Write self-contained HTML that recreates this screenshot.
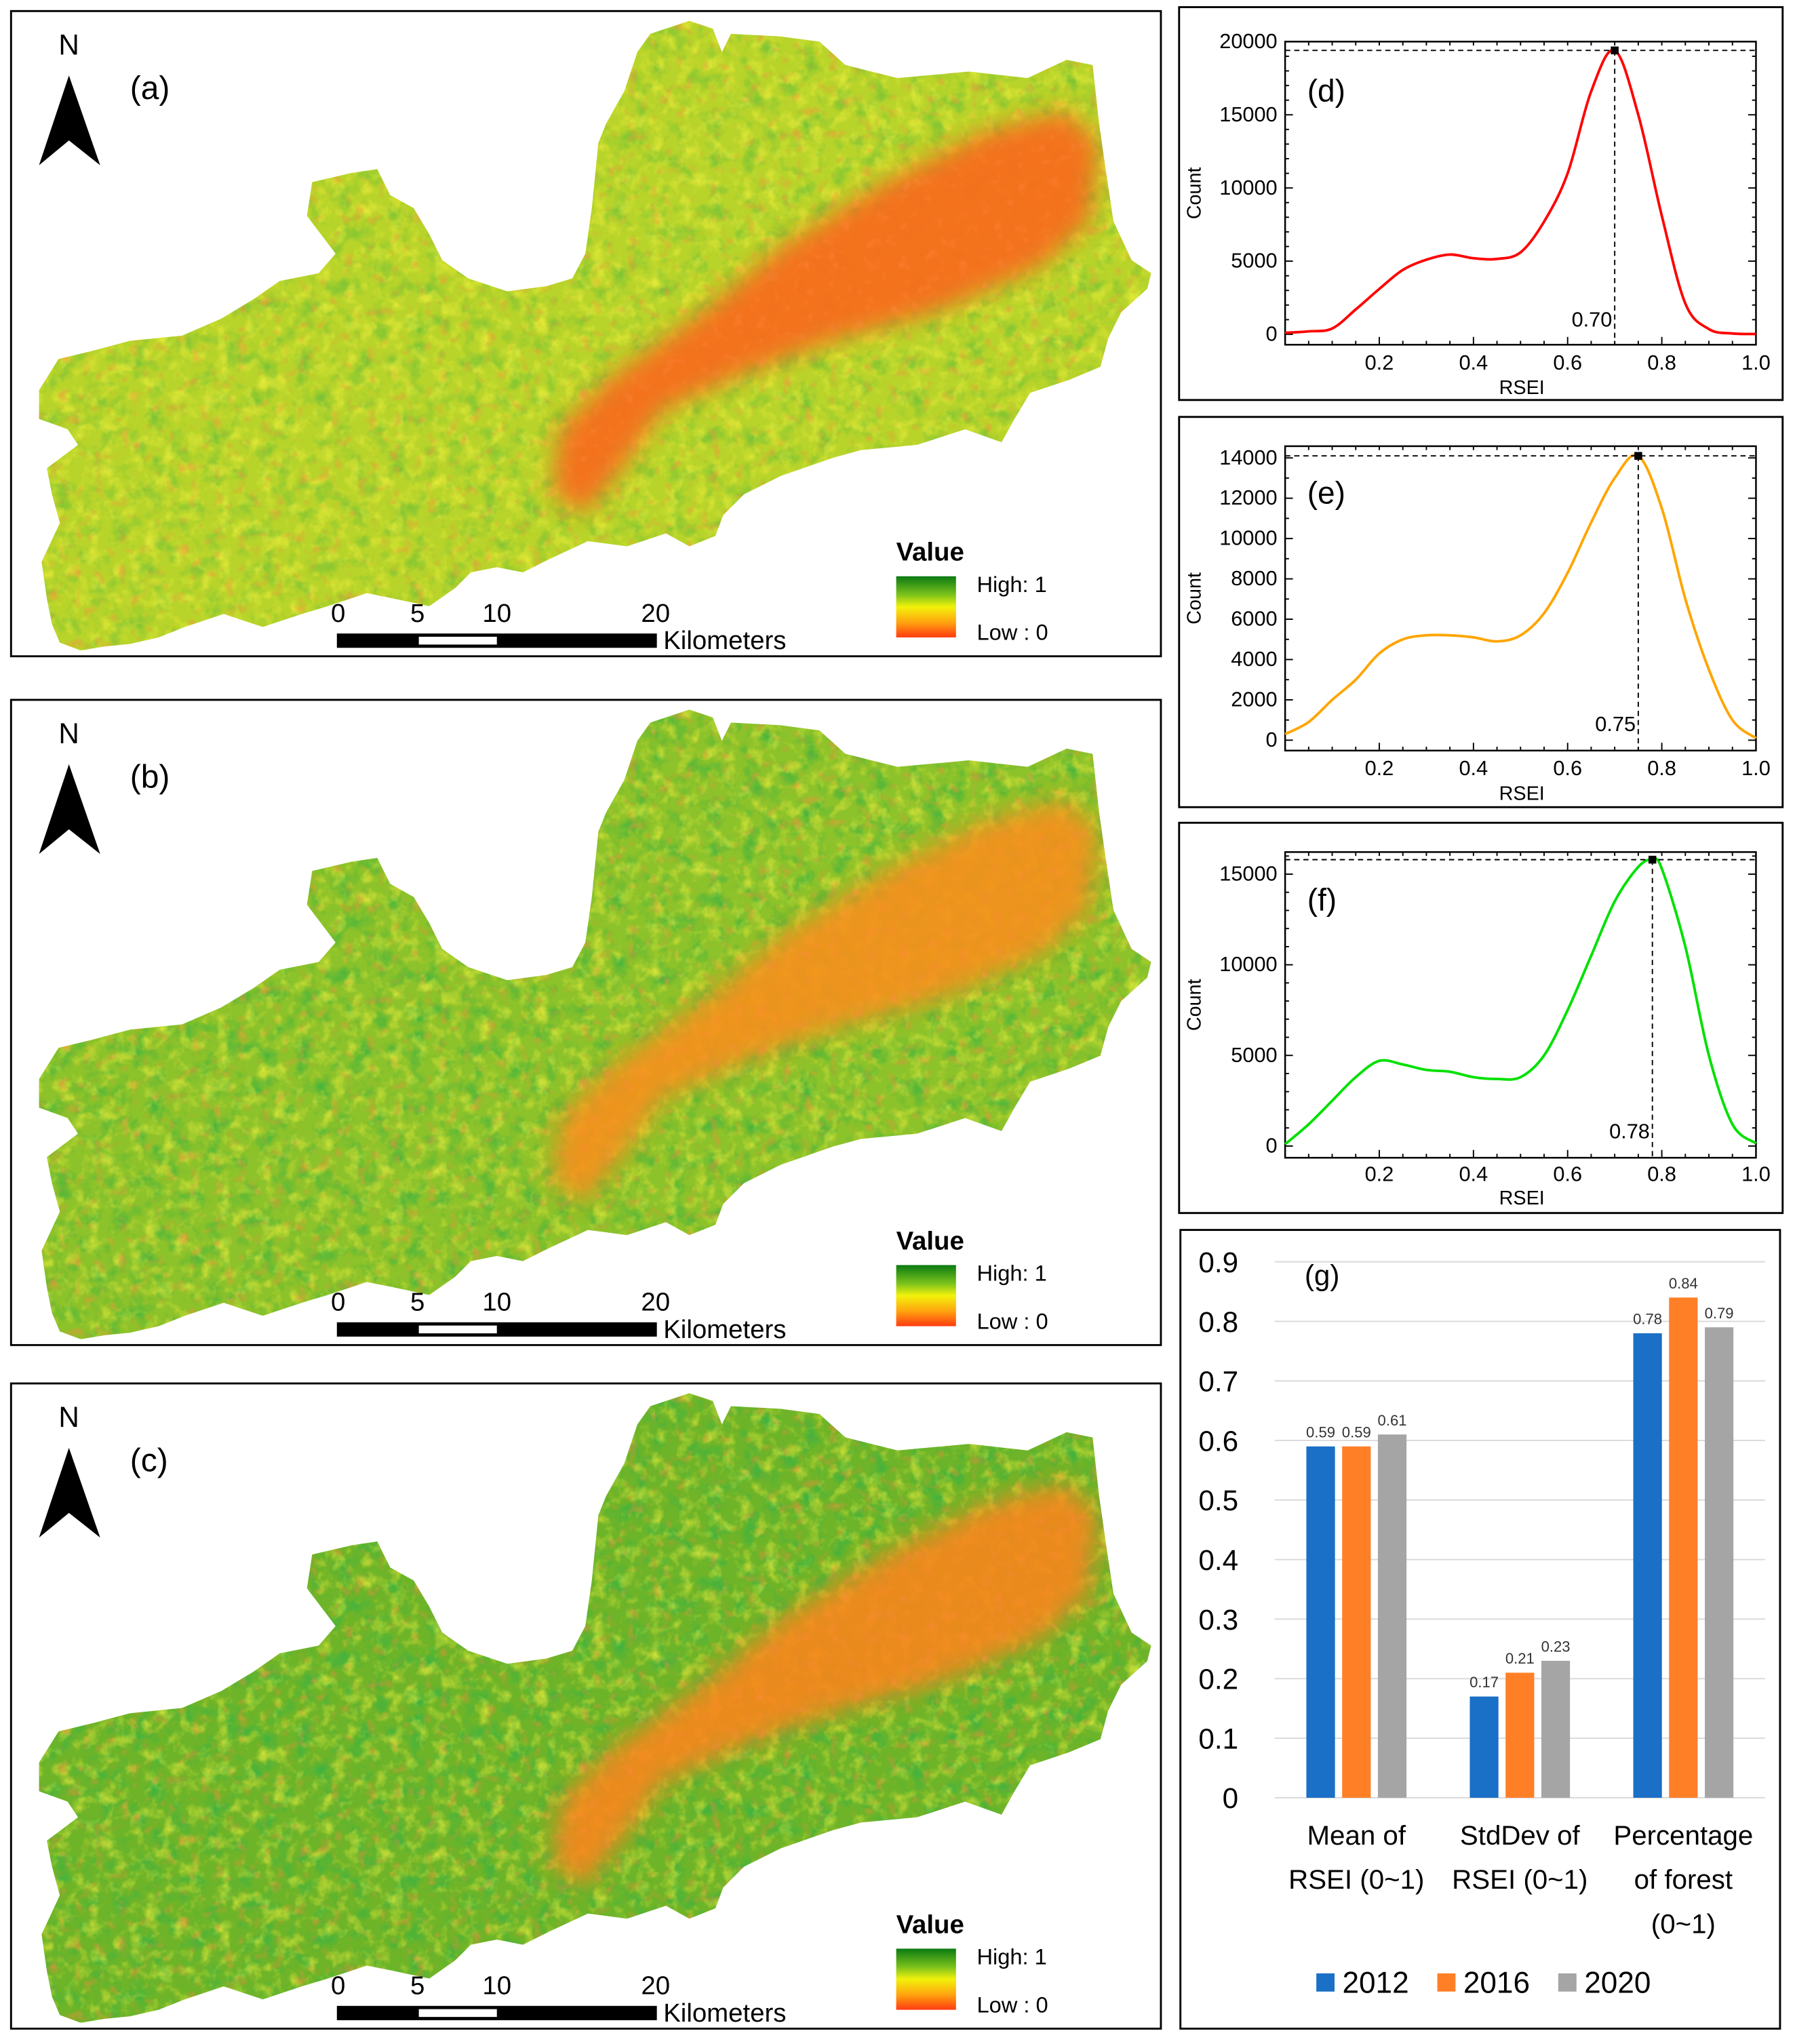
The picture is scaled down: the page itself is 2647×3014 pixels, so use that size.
<!DOCTYPE html>
<html><head><meta charset="utf-8"><style>
html,body{margin:0;padding:0;background:#fff}
svg{display:block}
text{font-family:"Liberation Sans",sans-serif}
</style></head><body>
<svg id="root" xmlns="http://www.w3.org/2000/svg" width="2647" height="3014" viewBox="0 0 1380 1571.3" preserveAspectRatio="none">
<defs>
<linearGradient id="lg" x1="0" y1="0" x2="0" y2="1">
<stop offset="0" stop-color="#0a7a12"/><stop offset="0.3" stop-color="#7ac21c"/><stop offset="0.5" stop-color="#f2f20a"/><stop offset="0.75" stop-color="#ffa50f"/><stop offset="1" stop-color="#ff3a10"/>
</linearGradient>
<filter id="tex" x="0" y="0" width="1" height="1">
<feTurbulence type="fractalNoise" baseFrequency="0.09" numOctaves="3" seed="4"/>
<feColorMatrix type="matrix" values="0 0 0 0 0.95  0 0 0 0 0.9  0 0 0 0 0.05  2.2 0 0 0 -1.05"/>
</filter>
<filter id="tex2" x="0" y="0" width="1" height="1">
<feTurbulence type="fractalNoise" baseFrequency="0.07" numOctaves="3" seed="9"/>
<feColorMatrix type="matrix" values="0 0 0 0 0.05  0 0 0 0 0.45  0 0 0 0 0.05  0 2.4 0 0 -1.15"/>
</filter>
<filter id="tex3" x="0" y="0" width="1" height="1">
<feTurbulence type="fractalNoise" baseFrequency="0.11" numOctaves="2" seed="17"/>
<feColorMatrix type="matrix" values="0 0 0 0 1  0 0 0 0 0.25  0 0 0 0 0.05  0 0 2.6 0 -1.5"/>
</filter>
<filter id="blur" x="-0.2" y="-0.2" width="1.4" height="1.4"><feGaussianBlur stdDeviation="9"/></filter>
</defs>
<g id="maps"></g>
<g id="charts"></g>
</svg>
<script>
const NS='http://www.w3.org/2000/svg';
function mk(tag,attrs,parent,txt){const e=document.createElementNS(NS,tag);for(const k in attrs)e.setAttribute(k,attrs[k]);if(txt!==undefined)e.textContent=txt;parent.appendChild(e);return e;}

/* ---------- density chart data ---------- */
const xsD=[0,0.05,0.1,0.15,0.2,0.25,0.3,0.35,0.4,0.45,0.5,0.55,0.6,0.65,0.7,0.75,0.8,0.85,0.9,0.95,1.0];
const countsD=[100,200,400,1700,3100,4400,5100,5450,5200,5150,5600,7700,11000,16600,19400,15000,8100,2100,360,60,20];
const xsE=[0,0.05,0.1,0.15,0.2,0.25,0.3,0.35,0.4,0.45,0.5,0.55,0.6,0.65,0.7,0.75,0.8,0.85,0.9,0.95,1.0];
const countsE=[300,900,2000,3000,4300,5000,5200,5200,5100,4900,5200,6300,8300,10800,13000,14100,11500,7000,3500,1000,100];
const xsF=[0,0.05,0.1,0.15,0.2,0.25,0.3,0.35,0.4,0.45,0.5,0.55,0.6,0.65,0.7,0.75,0.78,0.8,0.85,0.9,0.95,1.0];
const countsF=[100,1200,2500,3800,4700,4500,4200,4100,3800,3700,3800,5000,7500,10500,13500,15400,15800,15300,11000,5000,1200,150];
const peaksX=[0.70,0.75,0.78];
const peakLabels=['0.70','0.75','0.78'];
const ticksD=[0,5000,10000,15000,20000];
const ticksE=[0,2000,4000,6000,8000,10000,12000,14000];
const ticksF=[0,5000,10000,15000];
const xTicks=[0.2,0.4,0.6,0.8,1.0];
const xTickLabels=['0.2','0.4','0.6','0.8','1.0'];

/* ---------- bar chart data ---------- */
const barCats=[['Mean of','RSEI (0~1)'],['StdDev of','RSEI  (0~1)'],['Percentage','of forest','(0~1)']];
const s2012=[0.59,0.17,0.78];
const s2016=[0.59,0.21,0.84];
const s2020=[0.61,0.23,0.79];
const seriesNames=['2012','2016','2020'];
const barTicks=[0,0.1,0.2,0.3,0.4,0.5,0.6,0.7,0.8,0.9];

const charts=document.getElementById('charts');
const maps=document.getElementById('maps');

/* ---------- maps ---------- */
const outline=[[30,300],[45,276],[70,270],[100,262],[140,258],[170,245],[195,230],[215,216],[245,210],[258,195],[236,166],[240,140],[270,133],[290,130],[300,150],[318,160],[330,180],[340,200],[360,214],[390,224],[420,220],[440,214],[450,195],[455,160],[460,110],[466,95],[480,70],[490,40],[500,26],[530,16],[548,22],[555,40],[562,26],[600,28],[630,32],[650,50],[690,60],[712,58],[745,55],[790,60],[820,46],[840,50],[845,95],[850,130],[856,170],[870,200],[885,210],[882,222],[862,240],[852,260],[846,282],[822,292],[792,302],[780,322],[770,340],[742,330],[705,342],[662,346],[640,352],[600,366],[572,380],[556,396],[550,412],[530,420],[512,410],[482,420],[452,416],[422,430],[402,440],[382,436],[362,440],[350,452],[330,466],[302,460],[282,456],[252,466],[232,472],[202,482],[172,472],[142,482],[122,490],[100,495],[80,497],[62,500],[46,494],[40,480],[36,460],[32,432],[46,402],[40,380],[36,360],[60,342],[52,330],[30,322]];
const core=[[425,380],[430,330],[470,290],[540,240],[600,190],[680,140],[760,100],[820,85],[845,110],[838,170],[800,205],[720,240],[640,262],[570,288],[510,315],[478,360],[450,395]];
const mapCfg=[{off:0,label:'(a)',base:'#b8d42a',core:'#f76d1e',coreOp:0.95,green:0.5,name:'map-2012'},
              {off:529.5,label:'(b)',base:'#8cc22a',core:'#f7901e',coreOp:0.9,green:0.85,name:'map-2016'},
              {off:1055,label:'(c)',base:'#6eb428',core:'#f8861c',coreOp:0.9,green:1,name:'map-2020'}];
mapCfg.forEach((m,i)=>{
  const g=mk('g',{transform:`translate(0,${m.off})`},maps);
  
  
  const frame=mk('rect',{x:8.5,y:8.5,width:884,height:496,fill:'#fff',stroke:'#000','stroke-width':1.5},g);
  
  
  const cid='clip'+i;
  const cp=mk('clipPath',{id:cid},g);
  mk('polygon',{points:outline.map(p=>p.join(',')).join(' ')},cp);
  const mg=mk('g',{'clip-path':`url(#${cid})`},g);
  
  
  mk('rect',{x:20,y:10,width:870,height:495,fill:m.base},mg);
  mk('rect',{x:20,y:10,width:870,height:495,filter:'url(#tex2)',opacity:m.green},mg);
  mk('rect',{x:20,y:10,width:870,height:495,filter:'url(#tex)',opacity:0.7},mg);
  mk('polygon',{points:core.map(p=>p.join(',')).join(' '),fill:m.core,opacity:m.coreOp,filter:'url(#blur)'},mg);
  mk('rect',{x:20,y:10,width:870,height:495,filter:'url(#tex3)',opacity:0.6},mg);
  const nt=mk('text',{x:53,y:42,'font-size':22,'text-anchor':'middle','font-family':'Liberation Serif, serif'},g,'N');
  
  
  const ar=mk('polygon',{points:'30,127 53,58 77,127 53,108',fill:'#000'},g);
  
  
  const pl=mk('text',{x:100,y:76,'font-size':25},g,m.label);
  
  
  const sb=mk('g',{},g);
  
  
  mk('rect',{x:259,y:487,width:246,height:11,fill:'#000'},sb);
  mk('rect',{x:322,y:489.5,width:60,height:6,fill:'#fff'},sb);
  [['0',260],['5',321],['10',382],['20',504]].forEach(t=>mk('text',{x:t[1],y:478,'font-size':20,'text-anchor':'middle'},sb,t[0]));
  mk('text',{x:510,y:499,'font-size':20},sb,'Kilometers');
  const lg=mk('g',{},g);
  
  
  mk('text',{x:689,y:431,'font-size':20,'font-weight':'bold'},lg,'Value');
  mk('rect',{x:689,y:443,width:46,height:47,fill:'url(#lg)'},lg);
  mk('text',{x:751,y:455,'font-size':17},lg,'High: 1');
  mk('text',{x:751,y:492,'font-size':17},lg,'Low : 0');
});

/* ---------- density charts ---------- */
function smoothPath(pts){
  let d=`M${pts[0][0]},${pts[0][1]}`;
  for(let i=0;i<pts.length-1;i++){
    const p0=pts[Math.max(0,i-1)],p1=pts[i],p2=pts[i+1],p3=pts[Math.min(pts.length-1,i+2)];
    const c1=[p1[0]+(p2[0]-p0[0])/6,p1[1]+(p2[1]-p0[1])/6];
    const c2=[p2[0]-(p3[0]-p1[0])/6,p2[1]-(p3[1]-p1[1])/6];
    d+=` C${c1[0]},${c1[1]} ${c2[0]},${c2[1]} ${p2[0]},${p2[1]}`;
  }
  return d;
}
const dens=[
 {name:'histogram-2012',label:'(d)',box:[906,5,464,302],L:988,R:1350,T:32,B:265,y0:257,yTopVal:20000,yTopPx:32,ticks:ticksD,minor:1000,xs:xsD,vals:countsD,color:'#ff0000',pi:0,lblY:78,peakLY:251,xlY:284,rseiY:303},
 {name:'histogram-2016',label:'(e)',box:[906,320,464,300],L:988,R:1350,T:343,B:577,y0:569,yTopVal:14000,yTopPx:352,ticks:ticksE,minor:1000,xs:xsE,vals:countsE,color:'#ffa500',pi:1,lblY:387,peakLY:562,xlY:596,rseiY:615},
 {name:'histogram-2020',label:'(f)',box:[906,632,464,300],L:988,R:1350,T:655,B:890,y0:881,yTopVal:15000,yTopPx:672,ticks:ticksF,minor:1000,xs:xsF,vals:countsF,color:'#00e000',pi:2,lblY:700,peakLY:875,xlY:908,rseiY:926}
];
dens.forEach(c=>{
  const g=mk('g',{},charts);
  
  
  const fr=mk('rect',{x:c.box[0]+0.5,y:c.box[1]+0.5,width:c.box[2],height:c.box[3],fill:'#fff',stroke:'#000','stroke-width':1.5},g);
  
  
  const X=v=>c.L+v*(c.R-c.L);
  const Y=v=>c.y0-v*(c.y0-c.yTopPx)/c.yTopVal;
  const ax=mk('rect',{x:c.L,y:c.T,width:c.R-c.L,height:c.B-c.T,fill:'none',stroke:'#000','stroke-width':1.3},g);
  
  
  const tk=mk('g',{stroke:'#000','stroke-width':1},g);
  
  
  for(let v=0;X(v)<=c.R+0.1;v+=0.05){mk('line',{x1:X(v),x2:X(v),y1:c.B,y2:c.B-(Math.abs(v*5-Math.round(v*5))<1e-6?6:3)},tk);mk('line',{x1:X(v),x2:X(v),y1:c.T,y2:c.T+3},tk);}
  for(let v=0;Y(v)>=c.T-0.1;v+=c.minor){const maj=c.ticks.includes(v);mk('line',{x1:c.L,x2:c.L+(maj?6:3),y1:Y(v),y2:Y(v)},tk);mk('line',{x1:c.R,x2:c.R-(maj?6:3),y1:Y(v),y2:Y(v)},tk);}
  const yl=mk('g',{'font-size':16,'text-anchor':'end'},g);
  
  
  c.ticks.forEach(v=>mk('text',{x:c.L-6,y:Y(v)+5},yl,String(v)));
  const xl=mk('g',{'font-size':16,'text-anchor':'middle'},g);
  
  
  xTicks.forEach((v,i)=>mk('text',{x:X(v),y:c.xlY},xl,xTickLabels[i]));
  const xt=mk('text',{x:1170,y:c.rseiY,'font-size':15,'text-anchor':'middle'},g,'RSEI');
  
  
  const yt=mk('text',{x:0,y:0,'font-size':15,'text-anchor':'middle',transform:`translate(923,${(c.T+c.B)/2}) rotate(-90)`},g,'Count');
  
  
  const lb=mk('text',{x:1005,y:c.lblY,'font-size':24},g,c.label);
  
  
  const pts=c.xs.map((x,i)=>[X(x),Y(c.vals[i])]);
  const cv=mk('path',{d:smoothPath(pts),fill:'none',stroke:c.color,'stroke-width':2},g);
  
  
  const px=peaksX[c.pi];
  let pv=0;c.xs.forEach((x,i)=>{if(Math.abs(x-px)<0.026)pv=Math.max(pv,c.vals[i]);});
  const ph=mk('line',{x1:c.L,x2:c.R,y1:Y(pv),y2:Y(pv),stroke:'#000','stroke-dasharray':'4,3','stroke-width':1},g);
  
  
  const pvl=mk('line',{x1:X(px),x2:X(px),y1:Y(pv),y2:c.B,stroke:'#000','stroke-dasharray':'4,3','stroke-width':1},g);
  
  
  const pm=mk('rect',{x:X(px)-3,y:Y(pv)-3,width:6,height:6,fill:'#000'},g);
  
  
  const pt=mk('text',{x:X(px)-2,y:c.peakLY,'font-size':16,'text-anchor':'end'},g,peakLabels[c.pi]);
  
  
});

/* ---------- bar chart ---------- */
(function(){
  const g=mk('g',{},charts);
  
  
  const fr=mk('rect',{x:907.5,y:945.5,width:461,height:614,fill:'#fff',stroke:'#000','stroke-width':1.5},g);
  
  
  const y0=1382,yT=970,L=980,R=1357;
  const Y=v=>y0-v*(y0-yT)/0.9;
  const catW=(R-L)/3;
  const CX=i=>L+catW*(i+0.5);
  barTicks.forEach(v=>{
    const gl=mk('line',{x1:L,x2:R,y1:Y(v),y2:Y(v),stroke:'#d9d9d9','stroke-width':1},g);
    
    
    const t=mk('text',{x:952,y:Y(v)+8,'font-size':22,'text-anchor':'end'},g,String(v));
    
    
  });
  const lab=mk('text',{x:1003,y:988,'font-size':22},g,'(g)');
  
  
  const series=[s2012,s2016,s2020];
  const colors=['#1a6fc6','#ff7f27','#a5a5a5'];
  const bw=22,gap=5.5;
  series.forEach((s,si)=>{
    s.forEach((v,ci)=>{
      const x=CX(ci)+(si-1)*(bw+gap)-bw/2;
      const b=mk('rect',{x:x,y:Y(v),width:bw,height:y0-Y(v),fill:colors[si]},g);
      
      
      const t=mk('text',{x:x+bw/2,y:Y(v)-7,'font-size':11.5,'text-anchor':'middle',fill:'#333'},g,v.toFixed(2));
      
      
    });
  });
  barCats.forEach((lines,ci)=>{
    lines.forEach((ln,li)=>{
      const t=mk('text',{x:CX(ci),y:1418+li*34,'font-size':21,'text-anchor':'middle'},g,ln);
      
      
    });
  });
  const lx=[1012,1105,1198];
  seriesNames.forEach((n,i)=>{
    const lg=mk('g',{},g);
    
    
    mk('rect',{x:lx[i],y:1517,width:14,height:14,fill:colors[i]},lg);
    mk('text',{x:lx[i]+20,y:1532,'font-size':23},lg,n);
  });
})();
</script>
</body></html>
